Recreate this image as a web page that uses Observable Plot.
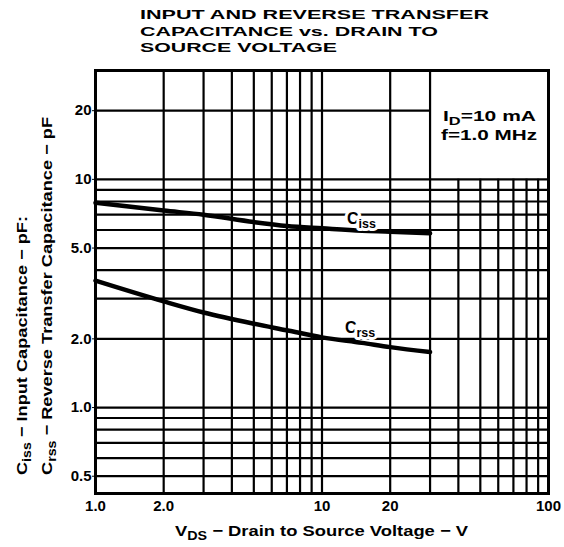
<!DOCTYPE html>
<html>
<head>
<meta charset="utf-8">
<script src="https://cdn.jsdelivr.net/npm/d3@7"></script>
<script src="https://cdn.jsdelivr.net/npm/@observablehq/plot@0.6"></script>
<style>
  html, body { margin: 0; padding: 0; background: #fff; }
  #chart svg { display: block; }
</style>
</head>
<body>
<div id="chart"></div>
<script>
// ---- data ----
const vds  = [1, 2, 3, 5, 7, 10, 15, 20, 30];
const ciss = [7.9, 7.3, 7.0, 6.5, 6.25, 6.1, 5.95, 5.9, 5.8];
const crss = [3.6, 2.92, 2.61, 2.33, 2.18, 2.03, 1.92, 1.84, 1.75];

const xTicks = [1, 2, 5, 10, 20, 50, 100];
const xTickLabels = ["1.0", "2.0", "5.0", "10", "20", "50", "100"];
const yTicks = [0.5, 1, 2, 5, 10, 20];
const yTickLabels = ["0.5", "1.0", "2.0", "5.0", "10", "20"];

const xGridFull  = [2, 3, 4, 5, 6, 7, 8, 9, 10, 20, 30];
const xGridLower = [40, 50, 60, 70, 80, 90];
const yGridFull  = [0.5, 0.6, 0.7, 0.8, 0.9, 1, 2, 3, 4, 5, 6, 7, 8, 9, 10];
const yGridUpper = [20];

const xDomain = [1, 100];
const yDomain = [0.42, 30];
const lowerGridTop = 10;   // vertical lines 40..90 stop at 10 pF
const upperGridRight = 30; // 20 pF line stops at 30 V

const curveNames = ["C", "C"];
const curveSubs  = ["iss", "rss"];
const curveLabelX = [15, 14.8];
const curveLabelY = [6.75, 2.25];

const titleLines = ["INPUT AND REVERSE TRANSFER", "CAPACITANCE vs. DRAIN TO", "SOURCE VOLTAGE"];

// ---- build table ----
const series = [
  ...vds.map((v, i) => ({vds: v, c: ciss[i], s: "Ciss"})),
  ...vds.map((v, i) => ({vds: v, c: crss[i], s: "Crss"}))
];
const xLab = new Map(xTicks.map((d, i) => [d, xTickLabels[i]]));
const yLab = new Map(yTicks.map((d, i) => [d, yTickLabels[i]]));

const FONT = "'Liberation Sans', Arial, Helvetica, sans-serif";

const chart = Plot.plot({
  width: 564,
  height: 547,
  marginLeft: 95,
  marginRight: 16,
  marginTop: 70,
  marginBottom: 54,
  x: {type: "log", domain: xDomain},
  y: {type: "log", domain: yDomain},
  style: {fontFamily: FONT, fontWeight: "bold", fontSize: "14px", color: "black", background: "white"},
  marks: [
    Plot.ruleX(xGridFull, {stroke: "black", strokeWidth: 2.2}),
    Plot.ruleX(xGridLower, {y1: yDomain[0], y2: lowerGridTop, stroke: "black", strokeWidth: 2.2}),
    Plot.ruleY(yGridFull, {stroke: "black", strokeWidth: 2.2}),
    Plot.ruleY(yGridUpper, {x1: xDomain[0], x2: upperGridRight, stroke: "black", strokeWidth: 2.2}),
    Plot.line(series, {x: "vds", y: "c", z: "s", stroke: "black", strokeWidth: 4.5, curve: "monotone-x"}),
    Plot.frame({stroke: "black", strokeWidth: 3}),
    Plot.axisX(xTicks, {tickFormat: d => xLab.get(d), tickSize: 0, tickPadding: 7, fontSize: 15, fontWeight: "bold", label: null}),
    Plot.axisY(yTicks, {tickFormat: d => yLab.get(d), tickSize: 3, tickPadding: 1, fontSize: 15, fontWeight: "bold", label: null})
  ]
});

document.getElementById("chart").appendChild(chart);

const svg = d3.select(chart);
const sx = chart.scale("x"), sy = chart.scale("y");

function richText(parent, parts, attrs) {
  const t = parent.append("text");
  for (const k in attrs) t.attr(k, attrs[k]);
  let shifted = false;
  parts.forEach(([str, sub]) => {
    const ts = t.append("tspan").text(str);
    if (sub && !shifted) { ts.attr("dy", 4).attr("font-size", "78%"); shifted = true; }
    else if (!sub && shifted) { ts.attr("dy", -4); shifted = false; }
    else if (sub) ts.attr("font-size", "78%");
  });
  return t;
}

const g = svg.append("g")
  .attr("font-family", FONT).attr("font-weight", "bold").attr("fill", "black")
  .attr("text-anchor", "start").style("text-anchor", "start");

// curve labels with white knockout
curveNames.forEach((n, i) => {
  richText(g, [[n, false], [curveSubs[i], true]], {
    x: sx.apply(curveLabelX[i]), y: sy.apply(curveLabelY[i]) + 6,
    "text-anchor": "middle", "font-size": 16,
    stroke: "white", "stroke-width": 6, "paint-order": "stroke", "stroke-linejoin": "round"
  }).style("text-anchor", "middle");
});

// title
const titleBase = [18.5, 35.5, 52];
const titleLen = [349, 298, 197];
titleLines.forEach((s, i) => {
  g.append("text").attr("x", 140).attr("y", titleBase[i])
    .attr("font-size", 12.5).attr("textLength", titleLen[i]).attr("lengthAdjust", "spacingAndGlyphs")
    .text(s);
});

// conditions box
richText(g, [["I", false], ["D", true], ["=10 mA", false]], {
  x: 536, y: 121, "text-anchor": "end", "font-size": 15, textLength: 93, lengthAdjust: "spacingAndGlyphs"
}).style("text-anchor", "end");
richText(g, [["f=1.0 MHz", false]], {
  x: 537, y: 140, "text-anchor": "end", "font-size": 15, textLength: 96, lengthAdjust: "spacingAndGlyphs"
}).style("text-anchor", "end");

// x-axis title
richText(g, [["V", false], ["DS", true], [" \u2212 Drain to Source Voltage \u2212 V", false]], {
  x: 175, y: 536, "font-size": 15.5, textLength: 293, lengthAdjust: "spacingAndGlyphs"
});

// y-axis title (two rotated lines, start-aligned at bottom)
richText(g, [["C", false], ["iss", true], [" \u2212 Input Capacitance \u2212 pF:", false]], {
  transform: "translate(27,475) rotate(-90)", x: 0, y: 0, "font-size": 15.5,
  textLength: 259, lengthAdjust: "spacingAndGlyphs"
});
richText(g, [["C", false], ["rss", true], [" \u2212 Reverse Transfer Capacitance \u2212 pF", false]], {
  transform: "translate(52,475) rotate(-90)", x: 0, y: 0, "font-size": 15.5,
  textLength: 358, lengthAdjust: "spacingAndGlyphs"
});
</script>
</body>
</html>
